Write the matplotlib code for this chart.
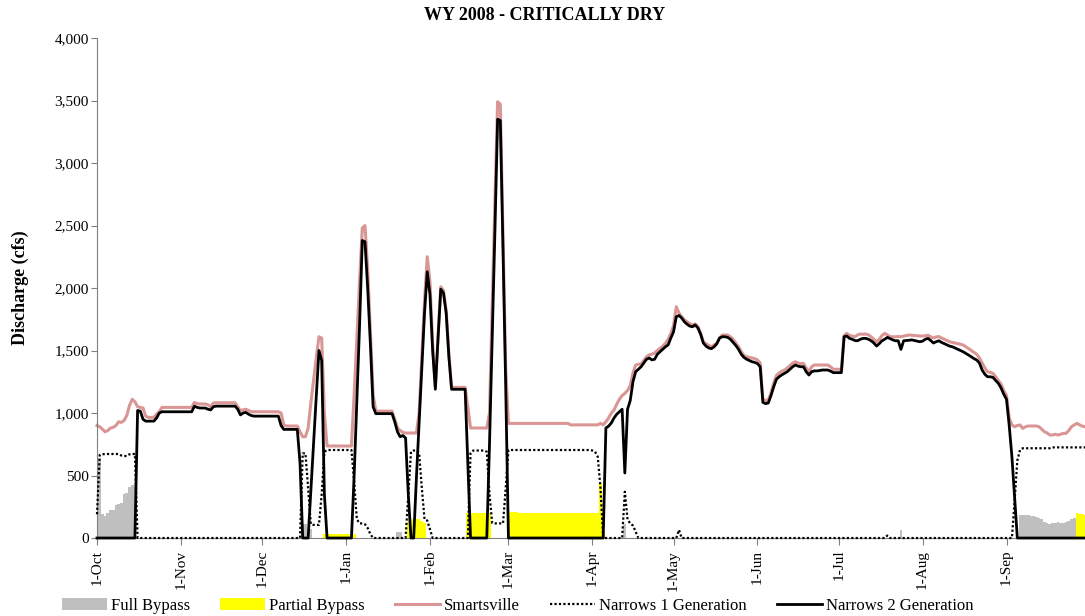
import matplotlib.pyplot as plt
import matplotlib.dates as mdates
import pandas as pd
from matplotlib.ticker import FuncFormatter, MultipleLocator

plt.rcParams['font.family'] = ['Liberation Serif', 'DejaVu Serif']

## WY 2008 daily flows (cfs), 1-Oct-2007 .. 30-Sep-2008, one row per month
dates = pd.date_range("2007-10-01", "2008-09-30", freq="D")
month_names = ["Oct", "Nov", "Dec", "Jan", "Feb", "Mar", "Apr", "May", "Jun", "Jul", "Aug", "Sep"]
month_days = [31, 30, 31, 31, 29, 31, 30, 31, 30, 31, 31, 30]

smartsville = [
    [900, 890, 870, 850, 860, 880, 885, 900, 930, 925, 940, 980, 1060, 1110, 1090, 1050, 1045, 1040, 975, 965, 965, 965, 990, 1010, 1045, 1045, 1045, 1045, 1045, 1045, 1045],
    [1045, 1045, 1045, 1045, 1045, 1085, 1075, 1072, 1072, 1072, 1065, 1050, 1080, 1082, 1082, 1082, 1082, 1082, 1082, 1082, 1082, 1050, 1020, 1025, 1030, 1020, 1010, 1010, 1010, 1010],
    [1010, 1010, 1010, 1010, 1010, 1010, 1010, 1000, 904, 896, 896, 896, 896, 896, 850, 810, 810, 880, 1080, 1260, 1440, 1610, 1600, 1000, 736, 736, 736, 736, 736, 736, 736],
    [736, 736, 736, 1150, 1600, 2050, 2480, 2500, 2150, 1650, 1150, 1015, 1015, 1015, 1015, 1015, 1015, 1015, 950, 880, 860, 845, 840, 840, 840, 840, 840, 1000, 1450, 1900, 2250],
    [2050, 1550, 1210, 1620, 2010, 1980, 1820, 1470, 1205, 1205, 1205, 1205, 1205, 1205, 1050, 880, 880, 880, 880, 880, 880, 880, 1000, 1850, 2700, 3490, 3470, 2400, 1350],
    [917, 917, 917, 917, 917, 917, 917, 917, 917, 917, 917, 917, 917, 917, 917, 917, 917, 917, 917, 917, 917, 917, 917, 905, 905, 905, 905, 905, 905, 905, 905],
    [905, 905, 905, 917, 905, 930, 960, 1000, 1024, 1070, 1110, 1140, 1157, 1180, 1220, 1320, 1384, 1390, 1392, 1420, 1450, 1465, 1470, 1480, 1500, 1517, 1535, 1557, 1590, 1637],
    [1700, 1850, 1800, 1770, 1745, 1730, 1715, 1704, 1712, 1690, 1640, 1570, 1555, 1540, 1530, 1545, 1560, 1600, 1624, 1624, 1624, 1610, 1590, 1560, 1530, 1490, 1460, 1450, 1445, 1440, 1435],
    [1424, 1400, 1110, 1100, 1105, 1160, 1240, 1300, 1320, 1335, 1344, 1360, 1380, 1400, 1410, 1400, 1395, 1397, 1360, 1330, 1370, 1384, 1384, 1384, 1384, 1384, 1384, 1370, 1350, 1350],
    [1350, 1345, 1620, 1637, 1620, 1616, 1610, 1625, 1632, 1630, 1632, 1625, 1610, 1590, 1570, 1590, 1620, 1637, 1625, 1610, 1610, 1610, 1612, 1610, 1615, 1620, 1624, 1622, 1620, 1618, 1616],
    [1616, 1618, 1622, 1610, 1600, 1608, 1612, 1600, 1590, 1580, 1570, 1565, 1560, 1555, 1550, 1544, 1530, 1515, 1500, 1485, 1470, 1440, 1400, 1360, 1330, 1325, 1317, 1290, 1260, 1230, 1180],
    [1140, 960, 905, 890, 900, 904, 877, 890, 896, 896, 896, 896, 890, 870, 851, 840, 824, 824, 830, 824, 830, 837, 837, 860, 890, 905, 917, 905, 895, 890],
]

narrows2 = [
    [0, 0, 0, 0, 0, 0, 0, 0, 0, 0, 0, 0, 0, 0, 0, 1020, 1015, 950, 935, 935, 935, 935, 960, 1000, 1010, 1010, 1010, 1010, 1010, 1010, 1010],
    [1010, 1010, 1010, 1010, 1010, 1055, 1045, 1040, 1040, 1040, 1030, 1025, 1050, 1055, 1055, 1055, 1055, 1055, 1055, 1055, 1055, 1030, 985, 1000, 1005, 990, 980, 975, 975, 975],
    [975, 975, 975, 975, 975, 975, 975, 900, 869, 869, 869, 869, 869, 869, 600, 0, 0, 0, 380, 760, 1130, 1500, 1420, 350, 0, 0, 0, 0, 0, 0, 0],
    [0, 0, 0, 500, 1100, 1700, 2380, 2370, 2000, 1550, 1050, 995, 995, 995, 995, 995, 995, 995, 930, 850, 810, 820, 800, 350, 0, 0, 480, 920, 1360, 1800, 2130],
    [1950, 1500, 1190, 1600, 1990, 1960, 1800, 1450, 1190, 1190, 1190, 1190, 1190, 1190, 600, 0, 0, 0, 0, 0, 0, 0, 750, 1600, 2450, 3350, 3340, 2300, 1200],
    [0, 0, 0, 0, 0, 0, 0, 0, 0, 0, 0, 0, 0, 0, 0, 0, 0, 0, 0, 0, 0, 0, 0, 0, 0, 0, 0, 0, 0, 0, 0],
    [0, 0, 0, 0, 0, 880, 895, 920, 960, 990, 1010, 1030, 520, 1030, 1100, 1250, 1330, 1350, 1370, 1400, 1430, 1440, 1425, 1430, 1470, 1490, 1510, 1530, 1545, 1600],
    [1650, 1770, 1780, 1760, 1730, 1710, 1695, 1690, 1705, 1680, 1630, 1560, 1535, 1520, 1515, 1530, 1555, 1600, 1610, 1610, 1605, 1590, 1565, 1540, 1510, 1470, 1445, 1430, 1420, 1410, 1405],
    [1395, 1370, 1085, 1075, 1080, 1140, 1210, 1270, 1290, 1305, 1317, 1330, 1350, 1370, 1384, 1375, 1370, 1370, 1330, 1304, 1330, 1337, 1337, 1340, 1344, 1344, 1344, 1335, 1323, 1323],
    [1323, 1323, 1610, 1616, 1597, 1590, 1580, 1578, 1590, 1597, 1597, 1590, 1578, 1560, 1536, 1555, 1578, 1590, 1605, 1595, 1585, 1578, 1578, 1509, 1578, 1580, 1582, 1585, 1580, 1575, 1570],
    [1575, 1590, 1597, 1580, 1560, 1570, 1578, 1565, 1555, 1545, 1535, 1530, 1520, 1510, 1500, 1490, 1477, 1465, 1450, 1435, 1424, 1400, 1344, 1310, 1290, 1290, 1285, 1260, 1237, 1200, 1150],
    [1110, 900, 650, 330, 0, 0, 0, 0, 0, 0, 0, 0, 0, 0, 0, 0, 0, 0, 0, 0, 0, 0, 0, 0, 0, 0, 0, 0, 0, 0],
]

narrows1 = [
    [190, 664, 670, 672, 672, 672, 672, 672, 672, 660, 656, 656, 670, 672, 672, 0, 0, 0, 0, 0, 0, 0, 0, 0, 0, 0, 0, 0, 0, 0, 0],
    [0, 0, 0, 0, 0, 0, 0, 0, 0, 0, 0, 0, 0, 0, 0, 0, 0, 0, 0, 0, 0, 0, 0, 0, 0, 0, 0, 0, 0, 0],
    [0, 0, 0, 0, 0, 0, 0, 0, 0, 0, 0, 0, 0, 0, 0, 677, 677, 400, 110, 105, 105, 105, 350, 690, 704, 704, 704, 704, 704, 704, 704],
    [704, 704, 704, 450, 150, 117, 117, 110, 80, 30, 0, 0, 0, 0, 0, 0, 0, 0, 0, 0, 0, 0, 0, 350, 690, 700, 700, 680, 400, 150, 140],
    [70, 0, 0, 0, 0, 0, 0, 0, 0, 0, 0, 0, 0, 0, 0, 680, 700, 700, 700, 700, 700, 690, 350, 120, 117, 117, 117, 117, 400],
    [704, 704, 704, 704, 704, 704, 704, 704, 704, 704, 704, 704, 704, 704, 704, 704, 704, 704, 704, 704, 704, 704, 704, 704, 704, 704, 704, 704, 704, 704, 704],
    [700, 690, 650, 400, 0, 0, 0, 0, 0, 0, 0, 0, 370, 150, 115, 100, 50, 0, 0, 0, 0, 0, 0, 0, 0, 0, 0, 0, 0, 0],
    [0, 0, 65, 0, 0, 0, 0, 0, 0, 0, 0, 0, 0, 0, 0, 0, 0, 0, 0, 0, 0, 0, 0, 0, 0, 0, 0, 0, 0, 0, 0],
    [0, 0, 0, 0, 0, 0, 0, 0, 0, 0, 0, 0, 0, 0, 0, 0, 0, 0, 0, 0, 0, 0, 0, 0, 0, 0, 0, 0, 0, 0],
    [0, 0, 0, 0, 0, 0, 0, 0, 0, 0, 0, 0, 0, 0, 0, 0, 0, 0, 20, 0, 0, 0, 0, 0, 0, 0, 0, 0, 0, 0, 0],
    [0, 0, 0, 0, 0, 0, 0, 0, 0, 0, 0, 0, 0, 0, 0, 0, 0, 0, 0, 0, 0, 0, 0, 0, 0, 0, 0, 0, 0, 0, 0],
    [0, 0, 0, 300, 620, 705, 718, 718, 718, 718, 718, 718, 718, 718, 718, 718, 718, 725, 725, 725, 725, 725, 725, 725, 725, 725, 725, 725, 725, 725],
]

full_bypass = [
    [650, 640, 195, 175, 200, 224, 224, 264, 270, 280, 350, 360, 410, 424, 424, 0, 0, 0, 0, 0, 0, 0, 0, 0, 0, 0, 0, 0, 0, 0, 0],
    [0, 0, 0, 0, 0, 0, 0, 0, 0, 0, 0, 0, 0, 0, 0, 0, 0, 0, 0, 0, 0, 0, 0, 0, 0, 0, 0, 0, 0, 0],
    [0, 0, 0, 0, 0, 0, 0, 0, 0, 0, 0, 0, 0, 0, 0, 110, 110, 0, 75, 0, 0, 0, 0, 0, 0, 0, 0, 0, 0, 0, 0],
    [0, 0, 0, 0, 0, 0, 0, 0, 0, 0, 0, 0, 0, 0, 0, 0, 0, 0, 0, 50, 50, 0, 0, 0, 0, 0, 0, 0, 0, 0, 0],
    [0, 0, 0, 0, 0, 0, 0, 0, 0, 0, 0, 0, 0, 0, 0, 0, 0, 0, 0, 0, 0, 0, 0, 0, 0, 0, 0, 0, 0],
    [0, 0, 0, 0, 0, 0, 0, 0, 0, 0, 0, 0, 0, 0, 0, 0, 0, 0, 0, 0, 0, 0, 0, 0, 0, 0, 0, 0, 0, 0, 0],
    [0, 0, 0, 0, 0, 0, 0, 0, 0, 0, 0, 0, 110, 0, 0, 0, 0, 0, 0, 0, 0, 0, 0, 0, 0, 0, 0, 0, 0, 0],
    [0, 0, 0, 0, 0, 0, 0, 0, 0, 0, 0, 0, 0, 0, 0, 0, 0, 0, 0, 0, 0, 0, 0, 0, 0, 0, 0, 0, 0, 0, 0],
    [0, 0, 0, 0, 0, 0, 0, 0, 0, 0, 0, 0, 0, 0, 0, 0, 0, 0, 0, 0, 0, 0, 0, 0, 0, 0, 0, 0, 0, 0],
    [0, 0, 0, 0, 0, 0, 0, 0, 0, 0, 0, 0, 0, 0, 0, 0, 0, 0, 0, 0, 0, 0, 0, 65, 0, 0, 0, 0, 0, 0, 0],
    [0, 0, 0, 0, 0, 0, 0, 0, 0, 0, 0, 0, 0, 0, 0, 0, 0, 0, 0, 0, 0, 0, 0, 0, 0, 0, 0, 0, 0, 0, 0],
    [0, 0, 0, 0, 0, 184, 184, 184, 184, 180, 175, 170, 160, 150, 130, 120, 115, 118, 120, 125, 118, 120, 130, 140, 150, 157, 0, 0, 0, 0],
]

partial_bypass = [
    [0, 0, 0, 0, 0, 0, 0, 0, 0, 0, 0, 0, 0, 0, 0, 0, 0, 0, 0, 0, 0, 0, 0, 0, 0, 0, 0, 0, 0, 0, 0],
    [0, 0, 0, 0, 0, 0, 0, 0, 0, 0, 0, 0, 0, 0, 0, 0, 0, 0, 0, 0, 0, 0, 0, 0, 0, 0, 0, 0, 0, 0],
    [0, 0, 0, 0, 0, 0, 0, 0, 0, 0, 0, 0, 0, 0, 0, 0, 0, 0, 0, 0, 0, 0, 0, 35, 35, 35, 35, 35, 35, 35, 35],
    [35, 35, 35, 35, 0, 0, 0, 0, 0, 0, 0, 0, 0, 0, 0, 0, 0, 0, 0, 0, 0, 0, 0, 130, 150, 155, 155, 150, 140, 120, 0],
    [0, 0, 0, 0, 0, 0, 0, 0, 0, 0, 0, 0, 0, 0, 200, 200, 200, 200, 200, 200, 200, 200, 200, 0, 0, 0, 0, 0, 0],
    [210, 210, 210, 210, 200, 200, 200, 200, 200, 200, 200, 200, 200, 200, 200, 200, 200, 200, 200, 200, 200, 200, 200, 200, 200, 200, 200, 200, 200, 200, 200],
    [200, 200, 200, 440, 60, 0, 0, 0, 0, 0, 0, 0, 0, 0, 0, 0, 0, 0, 0, 0, 0, 0, 0, 0, 0, 0, 0, 0, 0, 0],
    [0, 0, 0, 0, 0, 0, 0, 0, 0, 0, 0, 0, 0, 0, 0, 0, 0, 0, 0, 0, 0, 0, 0, 0, 0, 0, 0, 0, 0, 0, 0],
    [0, 0, 0, 0, 0, 0, 0, 0, 0, 0, 0, 0, 0, 0, 0, 0, 0, 0, 0, 0, 0, 0, 0, 0, 0, 0, 0, 0, 0, 0],
    [0, 0, 0, 0, 0, 0, 0, 0, 0, 0, 0, 0, 0, 0, 0, 0, 0, 0, 0, 0, 0, 0, 0, 0, 0, 0, 0, 0, 0, 0, 0],
    [0, 0, 0, 0, 0, 0, 0, 0, 0, 0, 0, 0, 0, 0, 0, 0, 0, 0, 0, 0, 0, 0, 0, 0, 0, 0, 0, 0, 0, 0, 0],
    [0, 0, 0, 0, 0, 0, 0, 0, 0, 0, 0, 0, 0, 0, 0, 0, 0, 0, 0, 0, 0, 0, 0, 0, 0, 0, 200, 195, 190, 185],
]


def flatten(name, months):
    for mon, vals, n in zip(month_names, months, month_days):
        if len(vals) != n:
            raise ValueError(f"{name} {mon}: {len(vals)} values, expected {n}")
    return [v for vals in months for v in vals]


df = pd.DataFrame({
    "Full Bypass": flatten("full_bypass", full_bypass),
    "Partial Bypass": flatten("partial_bypass", partial_bypass),
    "Smartsville": flatten("smartsville", smartsville),
    "Narrows 1 Generation": flatten("narrows1", narrows1),
    "Narrows 2 Generation": flatten("narrows2", narrows2),
}, index=dates)

fig = plt.figure(figsize=(10.85, 6.16), dpi=100)
ax = fig.add_axes([0.0894, 0.1266, 0.9106, 0.8117])

h_full = ax.bar(df.index, df["Full Bypass"], width=1.0, color="#BFBFBF", linewidth=0, label="Full Bypass", zorder=1)
h_part = ax.bar(df.index, df["Partial Bypass"], width=1.0, color="#FFFF00", linewidth=0, label="Partial Bypass", zorder=1)
h_smart, = ax.plot(df.index, df["Smartsville"], color="#D99694", lw=2.2, label="Smartsville", zorder=2, clip_on=False)
h_n1, = ax.plot(df.index, df["Narrows 1 Generation"], color="black", lw=1.6, ls=(0, (1, 1)),
                label="Narrows 1 Generation", zorder=3, clip_on=False)
h_n2, = ax.plot(df.index, df["Narrows 2 Generation"], color="black", lw=2.0, label="Narrows 2 Generation",
                zorder=4, clip_on=False)

ax.set_xlim(dates[0], dates[-1])
ax.set_ylim(0, 4000)
ax.yaxis.set_major_locator(MultipleLocator(500))
ax.yaxis.set_major_formatter(FuncFormatter(lambda v, p: f"{int(v):,}"))
ax.xaxis.set_major_locator(mdates.MonthLocator())
ax.xaxis.set_major_formatter(FuncFormatter(lambda v, p: "{}-{}".format(mdates.num2date(v).day, mdates.num2date(v).strftime("%b"))))
ax.tick_params(axis="x", rotation=90, labelsize=11, length=5, color="#808080")
ax.tick_params(axis="y", labelsize=11, length=4, pad=2, color="#808080")

for side in ["top", "right"]:
    ax.spines[side].set_visible(False)
for side in ["left", "bottom"]:
    ax.spines[side].set_color("#808080")

ax.set_ylabel("Discharge (cfs)", fontsize=13, fontweight="bold", labelpad=18)
fig.text(0.502, 0.975, "WY 2008 - CRITICALLY DRY", ha="center", va="center", fontsize=13, fontweight="bold")

fig.legend([h_full, h_part, h_smart, h_n1, h_n2],
           ["Full Bypass", "Partial Bypass", "Smartsville", "Narrows 1 Generation", "Narrows 2 Generation"],
           loc="center", bbox_to_anchor=(0.477, 0.017), ncol=5, frameon=False, fontsize=12,
           handlelength=2.7, columnspacing=1.8, handletextpad=0.25)

fig.savefig("out.png", dpi=100)
